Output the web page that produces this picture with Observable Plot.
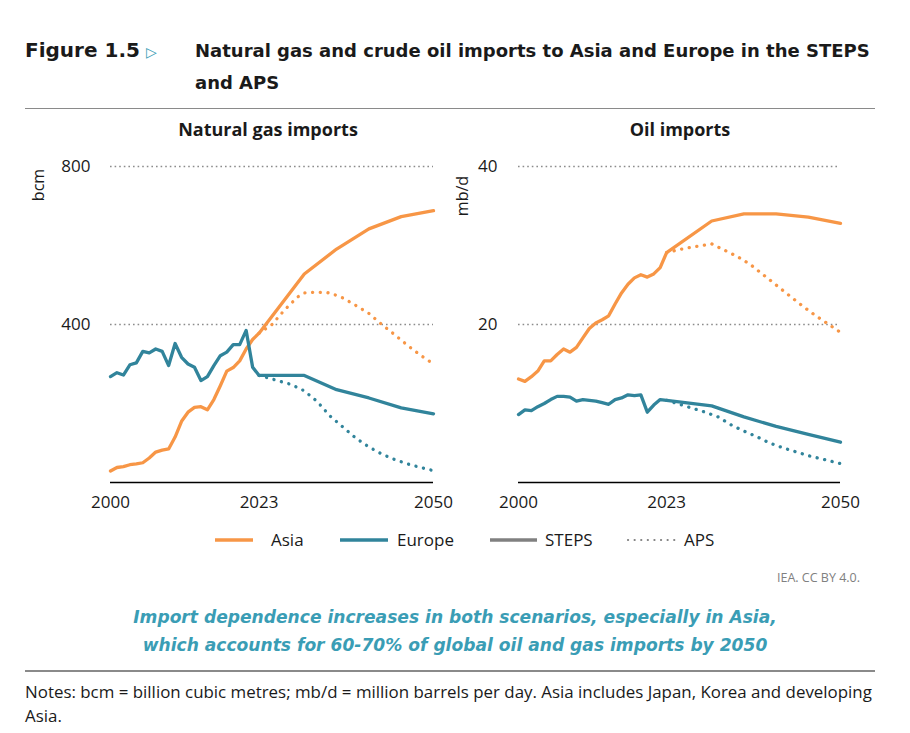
<!DOCTYPE html>
<html><head><meta charset="utf-8">
<script src="https://cdn.jsdelivr.net/npm/d3@7"></script>
<script src="https://cdn.jsdelivr.net/npm/@observablehq/plot@0.6"></script>
<style>
body{margin:0;background:#fff;width:910px;height:733px;position:relative;overflow:hidden;font-family:"Open Sans",Lato,sans-serif;color:#1a1a1a;}
.abs{position:absolute;white-space:nowrap;}
.panel{position:absolute;}
.geo{font-family:"DejaVu Sans",sans-serif;}
</style></head><body>
<div class="abs geo" style="left:25px;top:36px;font-weight:bold;font-size:20px;line-height:28px;">Figure 1.5</div>
<div class="abs" style="left:146px;top:38px;font-size:14px;line-height:28px;color:#3a9cb4;">▷</div>
<div class="abs geo" style="left:195px;top:35px;font-weight:bold;font-size:18px;line-height:32px;">Natural gas and crude oil imports to Asia and Europe in the STEPS<br>and APS</div>
<div class="abs" style="left:25px;top:108px;width:850px;height:0;border-top:1.5px solid #8a8a8a;"></div>

<div class="abs" style="left:168px;top:117px;width:200px;text-align:center;font-weight:bold;font-size:18px;">Natural gas imports</div>
<div class="abs" style="left:580px;top:117px;width:200px;text-align:center;font-weight:bold;font-size:18px;">Oil imports</div>
<div class="abs" style="left:16px;top:175px;width:44px;text-align:center;font-size:16px;line-height:20px;transform:rotate(-90deg);transform-origin:center;">bcm</div>
<div class="abs" style="left:438px;top:186px;width:48px;text-align:center;font-size:16px;line-height:20px;transform:rotate(-90deg);transform-origin:center;">mb/d</div>

<div id="gas" class="panel" style="left:0px;top:140px;"></div>
<div id="oil" class="panel" style="left:410px;top:140px;"></div>

<div class="abs" style="left:0;top:528px;width:910px;height:26px;">
<svg width="910" height="26" style="position:absolute;left:0;top:0">
<line x1="215" x2="253" y1="12" y2="12" stroke="#f79646" stroke-width="3.5"/>
<line x1="340" x2="388" y1="12" y2="12" stroke="#31849b" stroke-width="3.5"/>
<line x1="490" x2="537" y1="12" y2="12" stroke="#808080" stroke-width="3.5"/>
<line x1="628" x2="677" y1="12" y2="12" stroke="#808080" stroke-width="2.2" stroke-dasharray="0.1 6.5" stroke-linecap="round"/>
</svg>
<div class="abs" style="left:271px;top:0px;font-size:17px;line-height:24px;">Asia</div>
<div class="abs" style="left:397px;top:0px;font-size:17px;line-height:24px;">Europe</div>
<div class="abs" style="left:545px;top:0px;font-size:17px;line-height:24px;">STEPS</div>
<div class="abs" style="left:684px;top:0px;font-size:17px;line-height:24px;">APS</div>
</div>
<div class="abs" style="right:50px;top:569px;font-size:12.5px;color:#808080;">IEA. CC BY 4.0.</div>
<div class="abs geo" style="left:0;top:603px;width:910px;text-align:center;font-weight:bold;font-style:italic;font-size:17.1px;line-height:28px;color:#3a9db5;">Import dependence increases in both scenarios, especially in Asia,<br>which accounts for 60-70% of global oil and gas imports by 2050</div>
<div class="abs" style="left:25px;top:670px;width:850px;height:0;border-top:2px solid #8a8a8a;"></div>
<div class="abs" style="left:25px;top:680px;font-size:16.9px;line-height:24px;white-space:normal;width:856px;">Notes: bcm = billion cubic metres; mb/d = million barrels per day. Asia includes Japan, Korea and developing Asia.</div>

<script>
// ---- data ----
const histYears = [2000,2001,2002,2003,2004,2005,2006,2007,2008,2009,2010,2011,2012,2013,2014,2015,2016,2017,2018,2019,2020,2021,2022,2023];
const stepsYears = [2030,2035,2040,2045,2050];

// Natural gas (bcm)
const gasAsiaHist   = [29,38,40,45,47,50,62,77,82,85,115,155,178,190,192,184,210,245,282,291,308,338,362,378];
const gasEuropeHist = [268,278,272,298,303,332,328,338,332,296,352,317,300,292,258,268,296,321,330,349,349,385,292,271];
const gasAsiaSteps   = [528,591,642,673,688];
const gasEuropeSteps = [271,235,214,189,174];
const gasAsiaApsYears   = [2023,2025,2027,2029,2030,2032,2034,2036,2038,2040,2042,2044,2046,2048,2050];
const gasAsiaAps        = [378,400,438,470,480,482,480,467,448,428,400,374,347,322,300];
const gasEuropeApsYears = [2023,2025,2028,2030,2032,2034,2036,2038,2040,2042,2044,2046,2048,2050];
const gasEuropeAps      = [271,262,248,232,205,168,140,112,90,72,58,47,38,30];

// Oil (mb/d)
const oilAsiaHist   = [13.1,12.8,13.4,14.1,15.4,15.4,16.2,16.9,16.5,17.1,18.3,19.5,20.2,20.6,21.1,22.6,24.0,25.1,25.9,26.3,26.0,26.4,27.2,29.1];
const oilEuropeHist = [8.6,9.2,9.1,9.6,10.0,10.5,10.9,10.9,10.8,10.3,10.5,10.4,10.3,10.1,9.9,10.5,10.7,11.1,11.0,11.1,8.9,9.8,10.5,10.4];
const oilAsiaSteps   = [33.1,34.0,34.0,33.6,32.8];
const oilEuropeSteps = [9.7,8.3,7.1,6.1,5.1];
const oilAsiaApsYears   = [2023,2025,2027,2030,2032,2034,2036,2038,2040,2042,2044,2046,2048,2050];
const oilAsiaAps        = [29.1,29.5,29.8,30.2,29.4,28.6,27.6,26.3,25.0,23.7,22.4,21.2,20.1,19.0];
const oilEuropeApsYears = [2023,2025,2027,2029,2031,2033,2035,2037,2039,2041,2043,2045,2047,2050];
const oilEuropeAps      = [10.4,9.9,9.4,8.9,8.3,7.3,6.5,5.8,5.0,4.4,3.9,3.4,3.0,2.4];

const regions = ["Asia","Europe"];
const regionColors = ["#f79646","#31849b"];
const xTicks = [2000,2023,2050];

function rows(region, years, values){ return years.map((y,i)=>({region, year:y, value:values[i]})); }

function panel(cfg){
  const steps = [
    ...rows("Asia", histYears.concat(stepsYears), cfg.asiaHist.concat(cfg.asiaSteps)),
    ...rows("Europe", histYears.concat(stepsYears), cfg.europeHist.concat(cfg.europeSteps))
  ];
  const aps = [
    ...rows("Asia", cfg.asiaApsYears, cfg.asiaAps),
    ...rows("Europe", cfg.europeApsYears, cfg.europeAps)
  ];
  return Plot.plot({
    width: 455, height: 380,
    marginLeft: cfg.ml, marginRight: cfg.mr, marginTop: 26, marginBottom: 38,
    style: {fontFamily: "'Open Sans', sans-serif", fontSize: "17px", color: "#1a1a1a", background: "transparent", overflow: "visible"},
    x: {domain: [2000,2050], ticks: xTicks, tickFormat: d => String(d), tickSize: 0, tickPadding: 13, label: null},
    y: {domain: cfg.yDomain, ticks: cfg.yTicks, tickSize: 0, tickPadding: cfg.tp, label: null},
    color: {domain: regions, range: regionColors},
    marks: [
      Plot.ruleY(cfg.yTicks, {stroke: "#8c8c8c", strokeWidth: 1.6, strokeDasharray: "1.6 3"}),
      Plot.ruleY([0], {stroke: "#000", strokeWidth: 1.3}),
      Plot.line(aps, {x: "year", y: "value", z: "region", stroke: "region", strokeWidth: 3.3, strokeDasharray: "0.1 7.6", strokeLinecap: "round"}),
      Plot.line(steps, {x: "year", y: "value", z: "region", stroke: "region", strokeWidth: 3.3, strokeLinejoin: "round"})
    ]
  });
}

document.getElementById("gas").append(panel({
  asiaHist: gasAsiaHist, europeHist: gasEuropeHist, asiaSteps: gasAsiaSteps, europeSteps: gasEuropeSteps,
  asiaApsYears: gasAsiaApsYears, asiaAps: gasAsiaAps, europeApsYears: gasEuropeApsYears, europeAps: gasEuropeAps,
  yDomain: [0,800], yTicks: [400,800], ml: 110, mr: 22, tp: 20
}));
document.getElementById("oil").append(panel({
  asiaHist: oilAsiaHist, europeHist: oilEuropeHist, asiaSteps: oilAsiaSteps, europeSteps: oilEuropeSteps,
  asiaApsYears: oilAsiaApsYears, asiaAps: oilAsiaAps, europeApsYears: oilEuropeApsYears, europeAps: oilEuropeAps,
  yDomain: [0,40], yTicks: [20,40], ml: 108, mr: 25, tp: 21
}));
</script>
</body></html>
